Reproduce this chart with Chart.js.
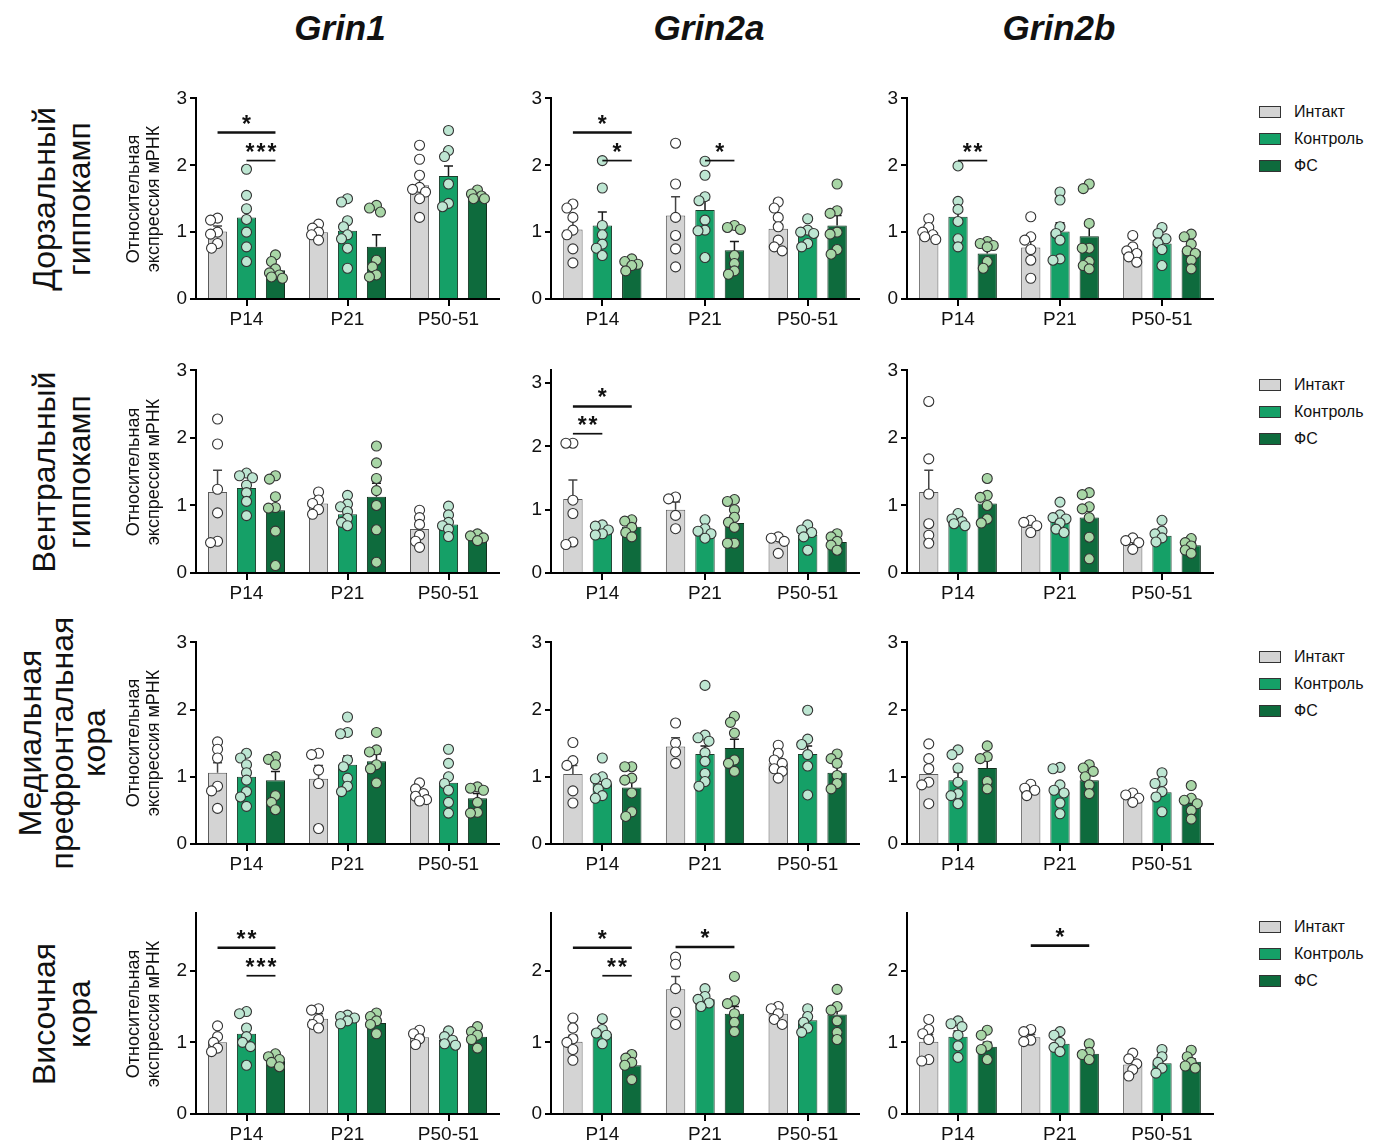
<!DOCTYPE html>
<html>
<head>
<meta charset="utf-8">
<script src="https://cdn.jsdelivr.net/npm/chart.js@4.4.0/dist/chart.umd.min.js"></script>
<style>
  body { margin: 0; background: #fff; }
  #page { position: relative; width: 1385px; height: 1147px; overflow: hidden; font-family: "Liberation Sans", Arial, sans-serif; color: #111; }
  .abs { position: absolute; }
  .gene { font-weight: bold; font-style: italic; font-size: 35px; transform: translate(-50%, -50%); white-space: nowrap; }
  .rot { transform: translate(-50%, -50%) rotate(-90deg); white-space: nowrap; text-align: center; }
  .region { font-size: 32px; line-height: 35px; }
  .ytitle { font-size: 18px; line-height: 20px; }
  .legend { font-size: 16px; }
  .legend div { height: 27px; display: flex; align-items: center; }
  .legend span.sw { display: inline-block; width: 20px; height: 10px; border: 1px solid #333; margin-right: 13px; }
</style>
</head>
<body>
<div id="page"></div>
<script>
// categories and groups
const groups = ["P14", "P21", "P50-51"];
const seriesNames = ["Интакт", "Контроль", "ФС"];
const genes = ["Grin1", "Grin2a", "Grin2b"];
const regions = [["Дорзальный", "гиппокамп"], ["Вентральный", "гиппокамп"], ["Медиальная", "префронтальная", "кора"], ["Височная", "кора"]];
const yTitle = ["Относительная", "экспрессия мРНК"];
const panelMax = [[3, 3, 3], [3, 3.2, 3], [3, 3, 3], [2.8, 2.8, 2.8]];

// values: [series][group]; points: [series][group][...]; sig: [group, fromSeries, toSeries, label, y]
// Dorsal hippocampus
const dorsG1Mean = [[1.01, 1.00, 1.70], [1.22, 1.02, 1.84], [0.43, 0.78, 1.53]];
const dorsG1Sem = [[0.08, 0.04, 0.12], [0.15, 0.13, 0.15], [0.05, 0.18, 0.03]];
const dorsG1Pts = [
  [[1.21, 1.18, 1.0, 0.97, 0.83, 0.76], [1.12, 1.06, 1.0, 0.96, 0.88], [2.3, 2.09, 1.85, 1.67, 1.64, 1.6, 1.5, 1.22]],
  [[1.94, 1.55, 1.35, 1.19, 1.0, 0.78, 0.56], [1.5, 1.45, 1.17, 1.08, 0.96, 0.9, 0.76, 0.46], [2.52, 2.22, 2.13, 1.72, 1.43, 1.38]],
  [[0.66, 0.56, 0.45, 0.39, 0.36, 0.33, 0.31], [1.4, 1.36, 1.3, 0.58, 0.48, 0.36, 0.33], [1.63, 1.57, 1.54, 1.5, 1.5]]
];
const dorsG1Sig = [[0, 0, 2, "*", 2.49], [0, 1, 2, "***", 2.07]];

const dorsG2aMean = [[1.04, 1.25, 1.05], [1.10, 1.33, 1.00], [0.49, 0.73, 1.10]];
const dorsG2aSem = [[0.16, 0.28, 0.13], [0.20, 0.15, 0.05], [0.02, 0.13, 0.15]];
const dorsG2aPts = [
  [[1.42, 1.36, 1.22, 1.03, 0.96, 0.75, 0.54], [2.33, 1.72, 1.22, 0.95, 0.75, 0.48], [1.45, 1.36, 1.22, 1.08, 0.88, 0.78, 0.72]],
  [[2.07, 1.66, 1.1, 0.96, 0.82, 0.76, 0.65], [2.06, 1.85, 1.53, 1.47, 1.18, 1.03, 1.02, 0.62], [1.2, 1.03, 1.0, 0.98, 0.83, 0.78]],
  [[0.6, 0.56, 0.52, 0.5, 0.42], [1.1, 1.07, 1.04, 0.65, 0.53, 0.42, 0.37], [1.72, 1.32, 1.28, 1.0, 0.97, 0.74, 0.67]]
];
const dorsG2aSig = [[0, 0, 2, "*", 2.49], [0, 1, 2, "*", 2.07], [1, 1, 2, "*", 2.07]];

const dorsG2bMean = [[1.0, 0.77, 0.72], [1.23, 1.01, 0.83], [0.68, 0.94, 0.72]];
const dorsG2bSem = [[0.05, 0.15, 0.06], [0.15, 0.13, 0.10], [0.07, 0.15, 0.10]];
const dorsG2bPts = [
  [[1.2, 1.07, 1.0, 0.96, 0.93, 0.89], [1.23, 0.93, 0.88, 0.74, 0.58, 0.31], [0.95, 0.78, 0.72, 0.68, 0.63, 0.55]],
  [[1.99, 1.46, 1.34, 1.16, 0.9, 0.78], [1.6, 1.48, 1.08, 0.98, 0.88, 0.6, 0.58], [1.07, 0.98, 0.9, 0.84, 0.74, 0.5]],
  [[0.86, 0.83, 0.8, 0.78, 0.56, 0.46], [1.72, 1.65, 1.13, 0.76, 0.76, 0.56, 0.5, 0.45], [0.97, 0.93, 0.82, 0.72, 0.68, 0.58, 0.45]]
];
const dorsG2bSig = [[0, 1, 2, "**", 2.07]];

// Ventral hippocampus
const ventG1Mean = [[1.2, 1.03, 0.65], [1.26, 0.87, 0.72], [0.93, 1.13, 0.51]];
const ventG1Sem = [[0.32, 0.07, 0.07], [0.07, 0.12, 0.07], [0.18, 0.2, 0.03]];
const ventG1Pts = [
  [[2.28, 1.91, 1.24, 0.89, 0.47, 0.45], [1.2, 1.08, 1.03, 0.94, 0.87], [0.93, 0.82, 0.72, 0.56, 0.47, 0.38]],
  [[1.48, 1.44, 1.41, 1.3, 1.19, 1.06, 0.85], [1.15, 1.02, 0.98, 0.91, 0.81, 0.75, 0.7], [0.99, 0.86, 0.75, 0.7, 0.65, 0.54]],
  [[1.44, 1.39, 1.13, 0.97, 0.96, 0.62, 0.11], [1.88, 1.63, 1.4, 1.22, 1.0, 0.64, 0.16], [0.58, 0.55, 0.52, 0.48]]
];
const ventG1Sig = [];

const ventG2aMean = [[1.17, 1.0, 0.48], [0.68, 0.65, 0.6], [0.73, 0.79, 0.49]];
const ventG2aSem = [[0.3, 0.12, 0.05], [0.05, 0.05, 0.06], [0.05, 0.11, 0.05]];
const ventG2aPts = [
  [[2.05, 2.05, 1.15, 0.94, 0.49, 0.45], [1.2, 1.17, 0.91, 0.7], [0.57, 0.55, 0.5, 0.31]],
  [[0.76, 0.74, 0.68, 0.62, 0.6], [0.84, 0.7, 0.66, 0.62, 0.55], [0.76, 0.68, 0.64, 0.57, 0.36]],
  [[0.84, 0.82, 0.72, 0.64, 0.57], [1.16, 1.13, 1.0, 0.88, 0.8, 0.72, 0.47, 0.47], [0.62, 0.57, 0.5, 0.44, 0.36]]
];
const ventG2aSig = [[0, 0, 2, "*", 2.63], [0, 0, 1, "**", 2.2]];

const ventG2bMean = [[1.2, 0.71, 0.43], [0.76, 0.78, 0.55], [1.03, 0.82, 0.41]];
const ventG2bSem = [[0.32, 0.04, 0.04], [0.03, 0.07, 0.05], [0.1, 0.14, 0.04]];
const ventG2bPts = [
  [[2.54, 1.69, 1.17, 0.73, 0.56, 0.44], [0.78, 0.75, 0.7, 0.6], [0.52, 0.48, 0.45, 0.35]],
  [[0.88, 0.8, 0.76, 0.73, 0.7], [1.05, 0.86, 0.82, 0.8, 0.74, 0.65, 0.6], [0.78, 0.62, 0.58, 0.52, 0.46]],
  [[1.4, 1.15, 1.12, 1.0, 0.8, 0.74], [1.19, 1.16, 0.98, 0.95, 0.82, 0.53, 0.21], [0.51, 0.45, 0.4, 0.34, 0.29]]
];
const ventG2bSig = [];

// Medial prefrontal cortex
const mpfcG1Mean = [[1.06, 0.97, 0.73], [1.0, 1.18, 0.91], [0.95, 1.23, 0.68]];
const mpfcG1Sem = [[0.15, 0.2, 0.05], [0.08, 0.13, 0.1], [0.13, 0.11, 0.07]];
const mpfcG1Pts = [
  [[1.52, 1.41, 1.28, 0.86, 0.79, 0.53], [1.35, 1.33, 1.1, 0.9, 0.23], [0.91, 0.82, 0.75, 0.71, 0.66, 0.64]],
  [[1.35, 1.28, 1.18, 1.06, 0.95, 0.78, 0.7, 0.56], [1.89, 1.66, 1.64, 1.25, 1.15, 0.98, 0.86, 0.78], [1.41, 1.2, 1.0, 0.9, 0.8, 0.62, 0.46]],
  [[1.3, 1.26, 1.18, 0.72, 0.62, 0.51], [1.66, 1.4, 1.37, 1.18, 1.12, 0.91], [0.85, 0.83, 0.8, 0.62, 0.47, 0.46]]
];
const mpfcG1Sig = [];

const mpfcG2aMean = [[1.04, 1.45, 1.2], [0.9, 1.34, 1.34], [0.84, 1.43, 1.06]];
const mpfcG2aSem = [[0.13, 0.13, 0.11], [0.06, 0.12, 0.12], [0.1, 0.13, 0.09]];
const mpfcG2aPts = [
  [[1.51, 1.24, 1.17, 0.79, 0.61], [1.8, 1.5, 1.37, 1.2], [1.47, 1.35, 1.25, 1.2, 1.12, 1.08, 0.98]],
  [[1.28, 1.0, 0.97, 0.9, 0.82, 0.72, 0.68], [2.36, 1.62, 1.58, 1.53, 1.36, 1.23, 1.05, 0.93, 0.86], [1.99, 1.56, 1.48, 1.33, 1.16, 0.73]],
  [[1.15, 1.15, 0.98, 0.95, 0.76, 0.48, 0.41], [1.9, 1.81, 1.65, 1.25, 1.2, 1.08], [1.34, 1.27, 1.2, 1.02, 0.9, 0.82]]
];
const mpfcG2aSig = [];

const mpfcG2bMean = [[1.04, 0.79, 0.67], [0.95, 0.77, 0.77], [1.13, 0.95, 0.61]];
const mpfcG2bSem = [[0.13, 0.03, 0.04], [0.12, 0.09, 0.12], [0.12, 0.08, 0.07]];
const mpfcG2bPts = [
  [[1.49, 1.27, 1.12, 0.92, 0.88, 0.6], [0.89, 0.83, 0.8, 0.72], [0.76, 0.73, 0.68, 0.62]],
  [[1.4, 1.33, 1.13, 0.92, 0.75, 0.72, 0.6], [1.14, 1.12, 0.88, 0.8, 0.76, 0.61, 0.45], [1.06, 0.93, 0.9, 0.78, 0.7, 0.48]],
  [[1.46, 1.3, 1.27, 0.93, 0.82], [1.18, 1.13, 1.08, 1.0, 0.88, 0.75], [0.87, 0.68, 0.65, 0.6, 0.5, 0.37]]
];
const mpfcG2bSig = [];

// Temporal cortex
const tempG1Mean = [[1.0, 1.33, 1.07], [1.12, 1.33, 1.04], [0.74, 1.27, 1.08]];
const tempG1Sem = [[0.07, 0.07, 0.04], [0.1, 0.03, 0.03], [0.03, 0.06, 0.06]];
const tempG1Pts = [
  [[1.23, 1.08, 1.0, 0.92, 0.87], [1.47, 1.45, 1.32, 1.25, 1.2], [1.17, 1.12, 1.05, 0.97]],
  [[1.43, 1.4, 1.2, 1.08, 1.0, 0.94, 0.68], [1.38, 1.36, 1.34, 1.3, 1.26], [1.16, 1.08, 1.03, 0.98, 0.96]],
  [[0.84, 0.8, 0.76, 0.72, 0.66], [1.41, 1.36, 1.3, 1.25, 1.12], [1.22, 1.15, 1.1, 1.04, 0.92]]
];
const tempG1Sig = [[0, 0, 2, "**", 2.32], [0, 1, 2, "***", 1.93]];

const tempG2aMean = [[1.01, 1.74, 1.4], [1.12, 1.6, 1.31], [0.68, 1.4, 1.39]];
const tempG2aSem = [[0.09, 0.18, 0.04], [0.04, 0.05, 0.05], [0.05, 0.1, 0.09]];
const tempG2aPts = [
  [[1.34, 1.2, 1.05, 1.0, 0.9, 0.75], [2.19, 2.09, 1.75, 1.42, 1.25], [1.5, 1.47, 1.4, 1.32, 1.25]],
  [[1.33, 1.18, 1.13, 1.1, 0.98], [1.75, 1.64, 1.6, 1.55, 1.5], [1.47, 1.36, 1.28, 1.2, 1.14]],
  [[0.83, 0.78, 0.72, 0.68, 0.48], [1.92, 1.58, 1.54, 1.4, 1.28, 1.15], [1.74, 1.5, 1.45, 1.3, 1.14, 1.04]]
];
const tempG2aSig = [[0, 0, 2, "*", 2.32], [0, 1, 2, "**", 1.93], [1, 0, 2, "*", 2.33]];

const tempG2bMean = [[1.01, 1.07, 0.69], [1.08, 0.98, 0.71], [0.94, 0.84, 0.73]];
const tempG2bSem = [[0.1, 0.04, 0.05], [0.08, 0.05, 0.05], [0.06, 0.03, 0.04]];
const tempG2bPts = [
  [[1.32, 1.18, 1.12, 1.04, 0.76, 0.74], [1.18, 1.15, 1.03, 1.01], [0.85, 0.77, 0.7, 0.62, 0.53]],
  [[1.3, 1.26, 1.22, 1.1, 0.95, 0.79], [1.15, 1.1, 1.0, 0.93, 0.87], [0.9, 0.8, 0.72, 0.64, 0.57]],
  [[1.17, 1.1, 0.95, 0.9, 0.76], [0.98, 0.86, 0.83, 0.76], [0.89, 0.8, 0.72, 0.67, 0.64]]
];
const tempG2bSig = [[1, 0, 2, "*", 2.35]];

// panel table: rows = regions, columns = genes
const panels = [
  [[dorsG1Mean, dorsG1Sem, dorsG1Pts, dorsG1Sig], [dorsG2aMean, dorsG2aSem, dorsG2aPts, dorsG2aSig], [dorsG2bMean, dorsG2bSem, dorsG2bPts, dorsG2bSig]],
  [[ventG1Mean, ventG1Sem, ventG1Pts, ventG1Sig], [ventG2aMean, ventG2aSem, ventG2aPts, ventG2aSig], [ventG2bMean, ventG2bSem, ventG2bPts, ventG2bSig]],
  [[mpfcG1Mean, mpfcG1Sem, mpfcG1Pts, mpfcG1Sig], [mpfcG2aMean, mpfcG2aSem, mpfcG2aPts, mpfcG2aSig], [mpfcG2bMean, mpfcG2bSem, mpfcG2bPts, mpfcG2bSig]],
  [[tempG1Mean, tempG1Sem, tempG1Pts, tempG1Sig], [tempG2aMean, tempG2aSem, tempG2aPts, tempG2aSig], [tempG2bMean, tempG2bSem, tempG2bPts, tempG2bSig]]
];

// styles
const barFill = ["#d4d4d4", "#15a067", "#0e6b3d"];
const barEdge = ["#5a5a5a", "#1d3d2c", "#13301f"];
const dotFill = ["#ffffff", "#bde6d2", "#a8d6a6"];
const FONT = "'Liberation Sans', Arial, sans-serif";

// layout (pixels)
const colAxis = [196, 551, 907];
const plotW = [303, 308, 306];
const rowTop = [98, 370, 642, 913];
const rowZero = [299, 573, 844, 1114];
const PADL = 46, PADT = 14, PADR = 8, PADB = 42;

Chart.defaults.font.family = FONT;

const page = document.getElementById("page");

function addDiv(cls, x, y, html) {
  const d = document.createElement("div");
  d.className = "abs " + cls;
  d.style.left = x + "px";
  d.style.top = y + "px";
  d.innerHTML = html;
  page.appendChild(d);
  return d;
}

// spread points sideways so they don't pile up
function swarm(vals, x0, yScale, r) {
  const placed = [];
  const offs = [0, -4, 4, -6, 6, -7, 7];
  vals.forEach(v => {
    const py = yScale.getPixelForValue(v);
    let best = 0, bestD = -1;
    for (const o of offs) {
      const d = placed.reduce((m, q) => Math.min(m, Math.hypot(q.x - (x0 + o), q.y - py)), 1e9);
      if (d >= r * 1.35) { best = o; bestD = d; break; }
      if (d > bestD) { bestD = d; best = o; }
    }
    placed.push({ x: x0 + best, y: py });
  });
  return placed;
}

const overlay = {
  id: "overlay",
  afterDatasetsDraw(chart, args, opts) {
    const [mean, sem, pts, sig] = opts.panel;
    const ctx = chart.ctx, y = chart.scales.y;
    ctx.save();
    // error bars (mean + SEM)
    mean.forEach((row, s) => {
      const meta = chart.getDatasetMeta(s);
      row.forEach((m, g) => {
        const bar = meta.data[g];
        const yt = y.getPixelForValue(m + sem[s][g]);
        ctx.strokeStyle = s === 0 ? "#444" : "#1a1a1a";
        ctx.lineWidth = 1.5;
        ctx.beginPath();
        ctx.moveTo(bar.x, bar.y);
        ctx.lineTo(bar.x, yt);
        ctx.moveTo(bar.x - 4.5, yt);
        ctx.lineTo(bar.x + 4.5, yt);
        ctx.stroke();
      });
    });
    // individual points
    pts.forEach((row, s) => {
      const meta = chart.getDatasetMeta(s);
      row.forEach((vals, g) => {
        const placed = swarm(vals, meta.data[g].x, y, 5);
        placed.forEach(p => {
          ctx.beginPath();
          ctx.arc(p.x, p.y, 5, 0, Math.PI * 2);
          ctx.fillStyle = dotFill[s];
          ctx.fill();
          ctx.lineWidth = 1.1;
          ctx.strokeStyle = "#333";
          ctx.stroke();
        });
      });
    });
    // significance lines
    sig.forEach(([g, a, b, label, v]) => {
      const x1 = chart.getDatasetMeta(a).data[g].x;
      const x2 = chart.getDatasetMeta(b).data[g].x;
      const ly = y.getPixelForValue(v);
      ctx.strokeStyle = "#111";
      ctx.lineWidth = (b - a) > 1 ? 2.6 : 1.7;
      ctx.beginPath();
      ctx.moveTo(x1, ly);
      ctx.lineTo(x2, ly);
      ctx.stroke();
      ctx.fillStyle = "#111";
      ctx.font = "bold 23px " + FONT;
      ctx.textAlign = "center";
      ctx.textBaseline = "alphabetic";
      ctx.letterSpacing = "2px";
      ctx.fillText(label, (x1 + x2) / 2 + 1, ly - 1);
    });
    ctx.restore();
  }
};

panels.forEach((row, r) => {
  row.forEach((panel, c) => {
    const w = PADL + plotW[c] + PADR;
    const h = PADT + (rowZero[r] - rowTop[r]) + PADB;
    const holder = addDiv("", colAxis[c] - PADL, rowTop[r] - PADT, "");
    const cv = document.createElement("canvas");
    cv.width = w; cv.height = h;
    cv.style.width = w + "px"; cv.style.height = h + "px";
    holder.appendChild(cv);
    const [mean] = panel;
    new Chart(cv, {
      type: "bar",
      data: {
        labels: groups,
        datasets: seriesNames.map((name, s) => ({
          label: name,
          data: mean[s],
          backgroundColor: barFill[s],
          borderColor: barEdge[s],
          borderWidth: 1,
          categoryPercentage: 0.86,
          barPercentage: 0.66
        }))
      },
      options: {
        responsive: false,
        animation: false,
        devicePixelRatio: 1,
        layout: { padding: { top: PADT, right: PADR, left: 0, bottom: 0 } },
        plugins: { legend: { display: false }, tooltip: { enabled: false }, overlay: { panel } },
        scales: {
          x: {
            type: "category",
            grid: { offset: false, drawOnChartArea: false, tickLength: 7, color: "#000", lineWidth: 2 },
            border: { display: true, color: "#000", width: 2 },
            ticks: { color: "#111", font: { size: 19 }, padding: 2 },
            afterFit(s) { s.height = PADB; }
          },
          y: {
            min: 0,
            max: panelMax[r][c],
            grid: { drawOnChartArea: false, tickLength: 6, color: "#000", lineWidth: 2 },
            border: { display: true, color: "#000", width: 2 },
            ticks: { stepSize: 1, includeBounds: false, color: "#111", font: { size: 19 }, padding: 3 },
            afterFit(s) { s.width = PADL; }
          }
        }
      },
      plugins: [overlay]
    });
  });
});

// gene titles
const geneX = [340, 709, 1059];
genes.forEach((g, i) => addDiv("gene", geneX[i], 28, g));

// region labels and y axis titles
regions.forEach((lines, r) => {
  const mid = (rowTop[r] + rowZero[r]) / 2;
  const reg = addDiv("rot region", 62, mid, lines.join("<br>"));
  if (lines.length === 3) reg.style.lineHeight = "32px";
  addDiv("rot ytitle", 143, mid, yTitle.join("<br>"));
});

// legends
const legendTop = [98, 371, 643, 913];
legendTop.forEach(t => {
  const lg = addDiv("legend", 1259, t, "");
  seriesNames.forEach((n, s) => {
    const item = document.createElement("div");
    item.innerHTML = '<span class="sw" style="background:' + barFill[s] + '"></span>' + n;
    lg.appendChild(item);
  });
});
</script>
</body>
</html>
